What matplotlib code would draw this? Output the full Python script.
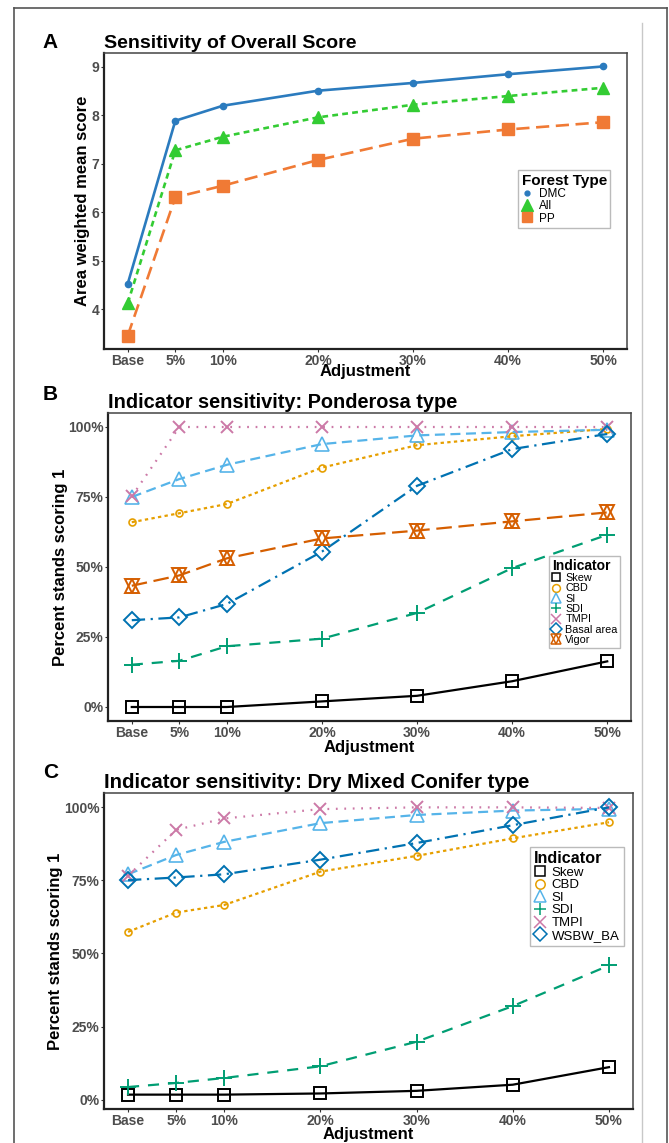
import matplotlib
matplotlib.use("Agg")
import matplotlib.pyplot as plt
from matplotlib.lines import Line2D
from matplotlib.legend_handler import HandlerTuple

plt.rcParams['font.family'] = ['Liberation Sans', 'DejaVu Sans']

W, H = 669, 1143

adj = [0, 5, 10, 20, 30, 40, 50]
adj_labels = ["Base", "5%", "10%", "20%", "30%", "40%", "50%"]

# panel A: area weighted mean score
dmc = [4.53, 7.89, 8.20, 8.51, 8.67, 8.85, 9.01]
all_ = [4.13, 7.28, 7.56, 7.96, 8.22, 8.40, 8.57]
pp = [3.46, 6.31, 6.55, 7.08, 7.52, 7.71, 7.86]

# panel B: ponderosa (percent)
pb_skew = [0, 0, 0, 2, 4, 9.2, 16.3]
pb_cbd = [66, 69.2, 72.5, 85.5, 93.5, 96.7, 99.3]
pb_si = [75, 81.4, 86.5, 93.9, 97, 98.2, 99]
pb_sdi = [15.1, 16.5, 21.7, 24.4, 33.6, 49.6, 61.5]
pb_tmpi = [75.2, 100, 100, 100, 100, 100, 100]
pb_basal = [31, 32, 36.8, 55.5, 79, 92.1, 97.5]
pb_vigor = [43.3, 47, 53.1, 60.2, 63, 66.3, 69.5]

# panel C: dry mixed conifer (percent)
pc_skew = [1.7, 1.7, 1.7, 2.1, 3.0, 5.1, 11.1]
pc_cbd = [57.4, 64, 66.6, 78, 83.4, 89.4, 94.9]
pc_si = [77.1, 83.7, 88.2, 94.6, 97.4, 98.9, 99.5]
pc_sdi = [4.3, 5.7, 7.4, 11.4, 19.8, 32, 45.9]
pc_tmpi = [76.6, 92.3, 96.2, 99.4, 100, 100, 99.8]
pc_wsbw = [75.1, 76, 77.1, 82.1, 87.8, 93.9, 100]

BLACK = "#000000"
ORANGE = "#E69F00"
SKY = "#56B4E9"
GREEN = "#009E73"
PINK = "#CC79A7"
BLUE = "#0072B2"
VERM = "#D55E00"

TICKC = "#4D4D4D"


def rect(l, t, r, b):
    return [l / W, 1 - b / H, (r - l) / W, (b - t) / H]


def fx(x):
    return x / W


def fy(y):
    return 1 - y / H


def style_axes(ax, ylabel, ylab_x, xlab_y):
    ax.set_xlim(-2.5, 52.5)
    ax.set_xticks(adj)
    ax.set_xticklabels(adj_labels)
    ax.tick_params(length=2.5, width=0.8, color="#333333", labelcolor=TICKC,
                   labelsize=10, pad=0.8)
    for lab in ax.get_xticklabels() + ax.get_yticklabels():
        lab.set_fontweight("bold")
    for s in ["left", "bottom"]:
        ax.spines[s].set_linewidth(1.6)
        ax.spines[s].set_color("#222222")
    for s in ["top", "right"]:
        ax.spines[s].set_linewidth(1.1)
        ax.spines[s].set_color("#444444")
    ax.set_xlabel("Adjustment", fontsize=12, fontweight="bold")
    ax.xaxis.set_label_coords(0.5, xlab_y)
    ax.set_ylabel(ylabel, fontsize=12, fontweight="bold")
    ax.yaxis.set_label_coords(ylab_x, 0.5)


def make_legend(ax, handles, names, title, anchor, size, tsize, hl, bp):
    leg = ax.legend(handles, names, title=title, loc="upper left",
                    bbox_to_anchor=(fx(anchor[0]), fy(anchor[1])),
                    bbox_transform=fig.transFigure, borderaxespad=0,
                    fontsize=size, title_fontproperties={"weight": "bold", "size": tsize},
                    frameon=True, fancybox=False, edgecolor="#BBBBBB", framealpha=1,
                    labelspacing=0.03, handlelength=hl, handletextpad=0.45,
                    borderpad=bp, alignment="left",
                    handler_map={tuple: HandlerTuple(ndivide=1)})
    leg.get_frame().set_linewidth(1.0)
    return leg


fig = plt.figure(figsize=(W / 100, H / 100), dpi=100)

# outer frame
fig.add_artist(Line2D([fx(14), fx(14)], [fy(8), 0], color="#555555", lw=1.2))
fig.add_artist(Line2D([fx(14), fx(667)], [fy(8), fy(8)], color="#555555", lw=1.2))
fig.add_artist(Line2D([fx(667), fx(667)], [fy(8), 0], color="#555555", lw=1.2))
fig.add_artist(Line2D([fx(642), fx(642)], [fy(23), 0], color="#C8C8C8", lw=1.0))

# ---------------- Panel A ----------------
axA = fig.add_axes(rect(104, 53, 627, 349))
axA.plot(adj, dmc, color="#2B7BBE", lw=1.9, ls="-", marker="o", ms=4.5)
axA.plot(adj, all_, color="#33CC33", lw=1.9, ls=(0, (2.2, 1.6)), marker="^", ms=9)
axA.plot(adj, pp, color="#F07A35", lw=1.9, ls=(0, (5, 2.5)), marker="s", ms=8)
axA.margins(y=0.05)
axA.set_yticks([4, 5, 6, 7, 8, 9])
style_axes(axA, "Area weighted mean score", -0.027, -0.052)
hA = [Line2D([], [], color="#2B7BBE", marker="o", ms=3.5, ls="none"),
      Line2D([], [], color="#33CC33", marker="^", ms=8, ls="none"),
      Line2D([], [], color="#F07A35", marker="s", ms=6.5, ls="none")]
make_legend(axA, hA, ["DMC", "All", "PP"], "Forest Type", (518, 170),
            8.5, 11, 1.0, 0.3)
fig.text(fx(50), fy(43), "A", fontsize=15, fontweight="bold", ha="center", va="center")
fig.text(fx(104), fy(43), "Sensitivity of Overall Score", fontsize=14,
         fontweight="bold", ha="left", va="center")

# ---------------- Panel B ----------------
axB = fig.add_axes(rect(108, 413, 631, 721))
lw = 1.6
axB.plot(adj, pb_skew, color=BLACK, lw=lw, ls="-", marker="s", ms=8, mfc="none", mew=1.4)
axB.plot(adj, pb_cbd, color=ORANGE, lw=lw, ls=(0, (1.5, 1.5)), marker="o", ms=5, mfc="none", mew=1.2)
axB.plot(adj, pb_si, color=SKY, lw=lw, ls=(0, (4.5, 2.5)), marker="^", ms=10, mfc="none", mew=1.2)
axB.plot(adj, pb_sdi, color=GREEN, lw=lw, ls=(0, (5, 4)), marker="+", ms=12, mew=1.4)
axB.plot(adj, pb_tmpi, color=PINK, lw=lw, ls=(0, (0.8, 3)), marker="x", ms=9, mew=1.4)
axB.plot(adj, pb_basal, color=BLUE, lw=lw, ls=(0, (6, 2.5, 1, 2.5)), marker="D", ms=8, mfc="none", mew=1.4)
axB.plot(adj, pb_vigor, color=VERM, lw=lw, ls=(0, (7, 3)), marker="^", ms=10, mfc="none", mew=1.4)
axB.plot(adj, pb_vigor, color=VERM, lw=0, marker="v", ms=10, mfc="none", mew=1.4)
axB.margins(y=0.05)
axB.set_yticks([0, 25, 50, 75, 100])
axB.set_yticklabels(["0%", "25%", "50%", "75%", "100%"])
style_axes(axB, "Percent stands scoring 1", -0.077, -0.063)


def ind_handles(colors, markers, s):
    hs = []
    for c, m in zip(colors, markers):
        if m == "hex":
            hs.append((Line2D([], [], color=c, marker="^", ms=s, mfc="none", mew=1.1, ls="none"),
                       Line2D([], [], color=c, marker="v", ms=s, mfc="none", mew=1.1, ls="none")))
        elif m in ("+", "x"):
            hs.append(Line2D([], [], color=c, marker=m, ms=s, mew=1.1, ls="none"))
        else:
            hs.append(Line2D([], [], color=c, marker=m, ms=s * (0.75 if m != "^" else 0.95),
                             mfc="none", mew=1.1, ls="none"))
    return hs


namesB = ["Skew", "CBD", "SI", "SDI", "TMPI", "Basal area", "Vigor"]
hB = ind_handles([BLACK, ORANGE, SKY, GREEN, PINK, BLUE, VERM],
                 ["s", "o", "^", "+", "x", "D", "hex"], 7.5)
make_legend(axB, hB, namesB, "Indicator", (549, 556), 7.8, 10, 0.8, 0.25)
fig.text(fx(50), fy(395), "B", fontsize=15, fontweight="bold", ha="center", va="center")
fig.text(fx(108), fy(402), "Indicator sensitivity: Ponderosa type", fontsize=14.4,
         fontweight="bold", ha="left", va="center")

# ---------------- Panel C ----------------
axC = fig.add_axes(rect(104, 793, 633, 1109))
axC.plot(adj, pc_skew, color=BLACK, lw=lw, ls="-", marker="s", ms=8, mfc="none", mew=1.4)
axC.plot(adj, pc_cbd, color=ORANGE, lw=lw, ls=(0, (1.5, 1.5)), marker="o", ms=5, mfc="none", mew=1.2)
axC.plot(adj, pc_si, color=SKY, lw=lw, ls=(0, (4.5, 2.5)), marker="^", ms=10, mfc="none", mew=1.2)
axC.plot(adj, pc_sdi, color=GREEN, lw=lw, ls=(0, (5, 4)), marker="+", ms=12, mew=1.4)
axC.plot(adj, pc_tmpi, color=PINK, lw=lw, ls=(0, (0.8, 3)), marker="x", ms=9, mew=1.4)
axC.plot(adj, pc_wsbw, color=BLUE, lw=lw, ls=(0, (6, 2.5, 1, 2.5)), marker="D", ms=8, mfc="none", mew=1.4)
axC.margins(y=0.05)
axC.set_yticks([0, 25, 50, 75, 100])
axC.set_yticklabels(["0%", "25%", "50%", "75%", "100%"])
style_axes(axC, "Percent stands scoring 1", -0.077, -0.057)

namesC = ["Skew", "CBD", "SI", "SDI", "TMPI", "WSBW_BA"]
hC = ind_handles([BLACK, ORANGE, SKY, GREEN, PINK, BLUE],
                 ["s", "o", "^", "+", "x", "D"], 9)
make_legend(axC, hC, namesC, "Indicator", (530, 847), 9.5, 11.6, 0.9, 0.3)
fig.text(fx(51), fy(773), "C", fontsize=15, fontweight="bold", ha="center", va="center")
fig.text(fx(104), fy(782), "Indicator sensitivity: Dry Mixed Conifer type", fontsize=14.7,
         fontweight="bold", ha="left", va="center")

fig.savefig("out.png", dpi=100)
